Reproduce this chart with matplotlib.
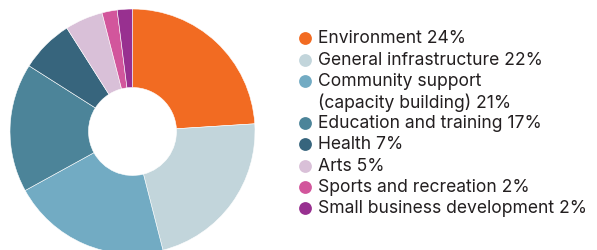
import matplotlib
matplotlib.use("Agg")
import matplotlib.pyplot as plt

labels = ["Environment 24%", "General infrastructure 22%",
          "Community support\n(capacity building) 21%",
          "Education and training 17%", "Health 7%", "Arts 5%",
          "Sports and recreation 2%", "Small business development 2%"]
values = [24, 22, 21, 17, 7, 5, 2, 2]
colors = ["#F26B22", "#C2D5DB", "#72ABC3", "#4C8499", "#37657D",
          "#D9C0D8", "#D2569C", "#983090"]

W, H = 597, 250
fig = plt.figure(figsize=(W / 100, H / 100), dpi=100)

# donut
cx, cy, r = 132.5, 131.5, 122.5
ax = fig.add_axes([(cx - r) / W, (H - cy - r) / H, 2 * r / W, 2 * r / H])
ax.pie(values, colors=colors, startangle=90, counterclock=False,
       radius=1, wedgeprops=dict(width=1 - 44 / r, linewidth=0.4, edgecolor="white"))
ax.set_xlim(-1, 1)
ax.set_ylim(-1, 1)
ax.set_aspect("equal")
ax.axis("off")

# legend drawn by hand, in pixel coords
rows = [38, 60, 81, 123, 144, 166, 187, 208]
lax = fig.add_axes([0, 0, 1, 1])
lax.set_xlim(0, W)
lax.set_ylim(H, 0)
lax.axis("off")
font = dict(fontsize=12.6, family=["Inter", "DejaVu Sans"], color="#231F20", ha="left")
for lab, col, y in zip(labels, colors, rows):
    lax.scatter([305], [y], s=85, color=col, linewidths=0)
    for i, line in enumerate(lab.split("\n")):
        lax.text(318, y + i * 21 + 0.5, line, va="center", **font)

fig.savefig("out.png", dpi=100)
